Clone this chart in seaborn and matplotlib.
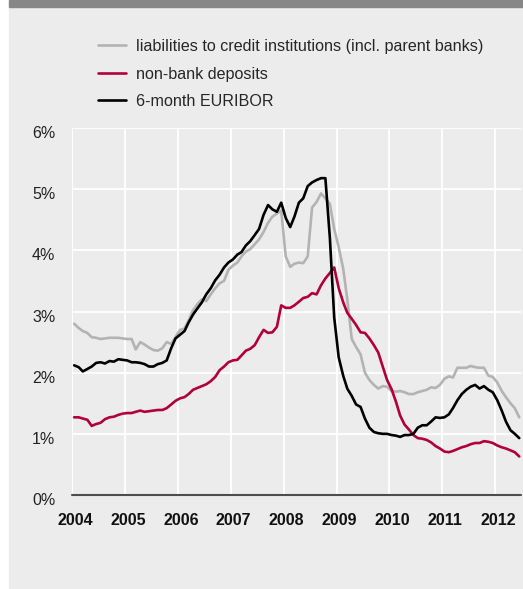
import numpy as np
import pandas as pd
import matplotlib
matplotlib.use("Agg")
import matplotlib.pyplot as plt
import matplotlib.dates as mdates
import matplotlib.transforms as mtransforms
from matplotlib.patches import Rectangle
from matplotlib.ticker import FuncFormatter
import seaborn as sns

# monthly observations, Jan 2004 - Jun 2012 (values in %)
months = pd.date_range("2004-01-01", "2012-06-01", freq="MS") + pd.Timedelta(days=15)

liabilities = [
    2.80, 2.73, 2.68, 2.65, 2.58, 2.57, 2.55, 2.56, 2.57, 2.57, 2.57, 2.56,
    2.55, 2.55, 2.38, 2.50, 2.46, 2.41, 2.37, 2.36, 2.40, 2.50, 2.47, 2.58,
    2.70, 2.72, 2.85, 3.02, 3.12, 3.20, 3.17, 3.28, 3.38, 3.46, 3.50, 3.68,
    3.75, 3.80, 3.90, 3.98, 4.02, 4.10, 4.18, 4.30, 4.45, 4.55, 4.60, 4.65,
    3.90, 3.73, 3.78, 3.80, 3.79, 3.90, 4.70, 4.79, 4.93, 4.85, 4.76, 4.35,
    4.05, 3.70, 3.20, 2.55, 2.42, 2.30, 2.00, 1.88, 1.80, 1.74, 1.78, 1.77,
    1.70, 1.69, 1.70, 1.68, 1.65, 1.65, 1.68, 1.70, 1.72, 1.76, 1.75, 1.80,
    1.90, 1.94, 1.92, 2.08, 2.08, 2.08, 2.11, 2.09, 2.08, 2.08, 1.95, 1.93,
    1.84, 1.70, 1.60, 1.50, 1.42, 1.27,
]
deposits = [
    1.27, 1.27, 1.25, 1.23, 1.13, 1.16, 1.18, 1.24, 1.27, 1.28, 1.31, 1.33,
    1.34, 1.34, 1.36, 1.38, 1.36, 1.37, 1.38, 1.39, 1.39, 1.42, 1.48, 1.54,
    1.58, 1.60, 1.65, 1.72, 1.75, 1.78, 1.81, 1.86, 1.93, 2.04, 2.10, 2.17,
    2.20, 2.21, 2.28, 2.36, 2.39, 2.45, 2.58, 2.70, 2.65, 2.66, 2.75, 3.10,
    3.06, 3.06, 3.10, 3.16, 3.22, 3.24, 3.30, 3.28, 3.43, 3.54, 3.63, 3.72,
    3.38, 3.15, 2.98, 2.88, 2.78, 2.66, 2.65, 2.56, 2.45, 2.33, 2.10, 1.88,
    1.73, 1.52, 1.30, 1.15, 1.07, 0.98, 0.93, 0.92, 0.90, 0.86, 0.80, 0.76,
    0.71, 0.70, 0.72, 0.75, 0.78, 0.80, 0.83, 0.85, 0.85, 0.88, 0.87, 0.85,
    0.81, 0.78, 0.76, 0.73, 0.70, 0.63,
]
euribor = [
    2.12, 2.09, 2.02, 2.06, 2.10, 2.16, 2.17, 2.15, 2.19, 2.18, 2.22, 2.21,
    2.20, 2.17, 2.17, 2.16, 2.14, 2.10, 2.10, 2.14, 2.16, 2.20, 2.40, 2.56,
    2.62, 2.68, 2.82, 2.95, 3.05, 3.15, 3.28, 3.38, 3.51, 3.60, 3.72, 3.80,
    3.85, 3.93, 3.97, 4.08, 4.15, 4.25, 4.35, 4.58, 4.74, 4.67, 4.63, 4.78,
    4.53, 4.38, 4.55, 4.78, 4.85, 5.05, 5.11, 5.15, 5.18, 5.18, 4.20, 2.90,
    2.25, 1.95, 1.74, 1.62, 1.48, 1.44, 1.25, 1.10, 1.03, 1.01, 1.00, 1.00,
    0.98, 0.97, 0.95, 0.98, 0.98, 1.00, 1.10, 1.14, 1.14, 1.20, 1.27, 1.26,
    1.27, 1.32, 1.42, 1.55, 1.65, 1.72, 1.77, 1.80, 1.74, 1.78, 1.72, 1.68,
    1.55, 1.38, 1.20, 1.06, 1.00, 0.93,
]

series_names = [
    "liabilities to credit institutions (incl. parent banks)",
    "non-bank deposits",
    "6-month EURIBOR",
]
colors = ["#b3b3b3", "#b1003b", "#000000"]
years = list(range(2004, 2013))

df = pd.concat([
    pd.DataFrame({"date": months, "rate": liabilities, "series": series_names[0]}),
    pd.DataFrame({"date": months, "rate": deposits, "series": series_names[1]}),
    pd.DataFrame({"date": months, "rate": euribor, "series": series_names[2]}),
])

sns.set_style("white")
plt.rcParams["font.family"] = ["Liberation Sans", "DejaVu Sans"]

W, H = 523, 589
fig = plt.figure(figsize=(W / 100, H / 100), dpi=100)
fig.patch.set_facecolor("white")
# light grey panel with the dark grey bar on top
fig.patches.append(Rectangle((9 / W, 1 / H), (W - 9) / W, 581 / H,
                             transform=fig.transFigure, color="#ececec", zorder=-2))
fig.patches.append(Rectangle((9 / W, (H - 7) / H), (W - 9) / W, 7 / H,
                             transform=fig.transFigure, color="#878787", zorder=-2))

ax = fig.add_axes([72 / W, (H - 495) / H, (521 - 72) / W, (495 - 128) / H])
ax.patch.set_alpha(0)
ax.set_zorder(2)

sns.lineplot(data=df, x="date", y="rate", hue="series", hue_order=series_names,
             palette=colors, linewidth=1.9, ax=ax, legend=True)

handles, labels = ax.get_legend_handles_labels()
ax.get_legend().remove()
fig.legend(handles, labels, loc="upper left", bbox_to_anchor=(98 / W, 1 - 39 / H),
           frameon=False, fontsize=11.6, handlelength=1.75, handletextpad=0.6,
           labelspacing=0.78, borderpad=0, borderaxespad=0)

ax.set_xlim(pd.Timestamp("2004-01-01"), pd.Timestamp("2012-06-28"))
ax.set_ylim(0, 6)
ax.set_xticks([pd.Timestamp(f"{y}-01-01") for y in years])
ax.xaxis.set_major_formatter(mdates.DateFormatter("%Y"))
ax.set_yticks(range(0, 7))
ax.yaxis.set_major_formatter(FuncFormatter(lambda v, p: f"{v:.0f}%"))
ax.grid(True, color="white", linewidth=1.3)
ax.set_axisbelow(True)
for s in ax.spines.values():
    s.set_visible(False)
ax.axhline(0, color="#4d4d4d", linewidth=1.5, clip_on=False, zorder=5)

ax.tick_params(axis="x", length=0, pad=13, labelsize=11.5, labelcolor="#111111")
ax.tick_params(axis="y", length=0, pad=12, labelsize=11.5, labelcolor="#222222")
for lab in ax.get_xticklabels():
    lab.set_fontweight("bold")
    lab.set_transform(lab.get_transform() +
                      mtransforms.ScaledTranslation(3 / 100, 0, fig.dpi_scale_trans))
for lab in ax.get_yticklabels():
    lab.set_transform(lab.get_transform() +
                      mtransforms.ScaledTranslation(0, -4 / 100, fig.dpi_scale_trans))

ax.set_xlabel("")
ax.set_ylabel("")

fig.savefig("out.png", dpi=100)
